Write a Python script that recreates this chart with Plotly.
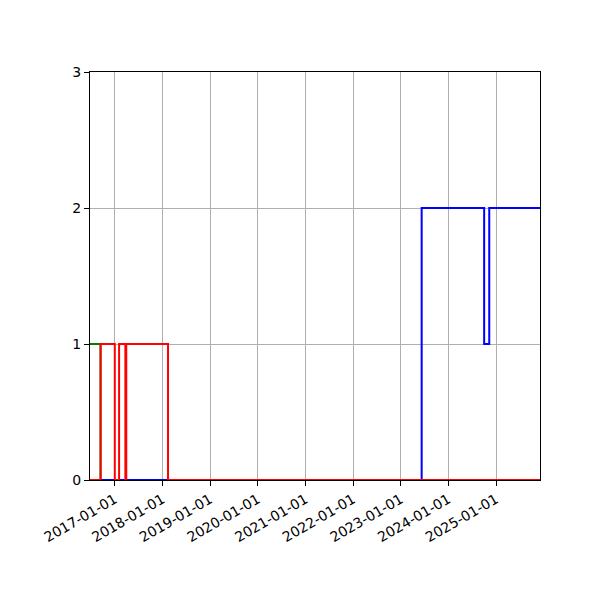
import plotly.graph_objects as go

# step series (value holds until next date)
green_dates = ["2016-06-25", "2016-09-14", "2025-12-04"]
green_values = [1, 0, 0]

blue_dates = ["2016-06-25", "2023-06-11", "2024-10-02", "2024-11-10", "2025-12-04"]
blue_values = [0, 2, 1, 2, 2]

red_dates = ["2016-06-25", "2016-09-14", "2017-01-01", "2017-02-03", "2017-03-23",
             "2017-03-30", "2018-02-13", "2025-12-04"]
red_values = [0, 1, 0, 1, 0, 1, 0, 0]

tick_dates = ["2017-01-01", "2018-01-01", "2019-01-01", "2020-01-01", "2021-01-01",
              "2022-01-01", "2023-01-01", "2024-01-01", "2025-01-01"]
y_ticks = [0, 1, 2, 3]

fig = go.Figure()

# drawing order: green, blue, red on top
for dates, values, colour in [(green_dates, green_values, "green"),
                              (blue_dates, blue_values, "blue"),
                              (red_dates, red_values, "red")]:
    fig.add_trace(go.Scatter(
        x=dates, y=values, mode="lines",
        line=dict(color=colour, width=2, shape="hv"),
        showlegend=False, cliponaxis=False,
    ))

fig.update_layout(
    width=600, height=600,
    margin=dict(l=82, r=68, t=64, b=128),
    plot_bgcolor="white", paper_bgcolor="white",
    font=dict(family="DejaVu Sans", size=14, color="black"),
    xaxis=dict(
        type="date",
        range=["2016-06-25", "2025-12-04"],
        tickmode="array", tickvals=tick_dates, ticktext=tick_dates,
        tickangle=-30,
        showgrid=True, gridcolor="#b0b0b0", gridwidth=1,
        showline=True, linecolor="black", linewidth=1, mirror=True,
        ticks="outside", ticklen=5, tickcolor="black",
        zeroline=False,
    ),
    yaxis=dict(
        range=[0, 3],
        tickmode="array", tickvals=y_ticks,
        showgrid=True, gridcolor="#b0b0b0", gridwidth=1,
        showline=True, linecolor="black", linewidth=1, mirror=True,
        ticks="outside", ticklen=5, tickcolor="black",
        zeroline=False,
    ),
)

fig.write_html("out.html")
